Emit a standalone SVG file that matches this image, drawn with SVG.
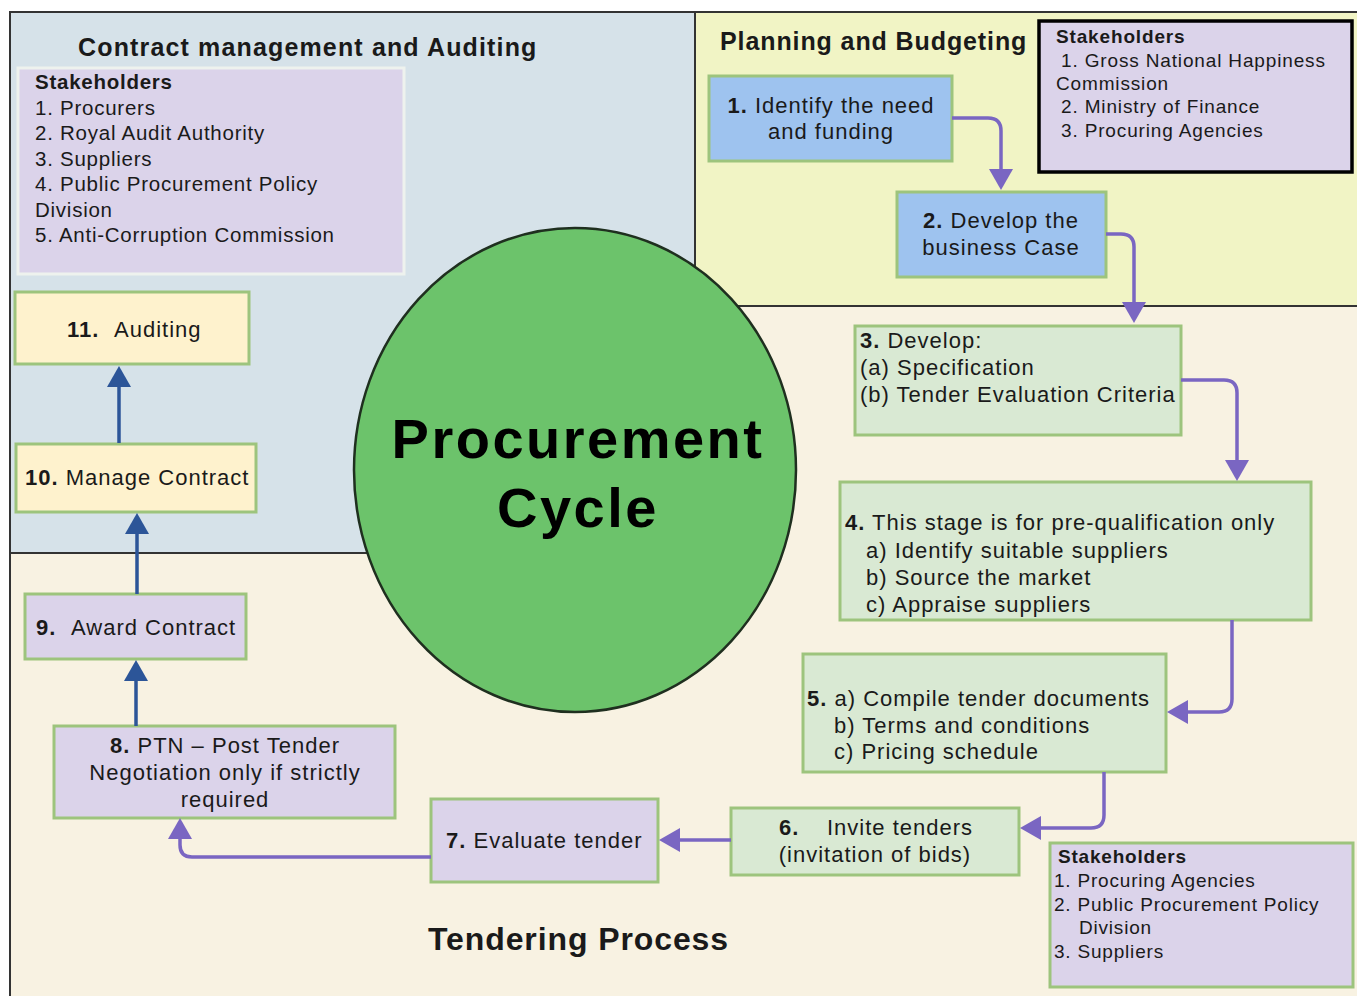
<svg xmlns="http://www.w3.org/2000/svg" width="1357" height="996" viewBox="0 0 1357 996">
<style>
text{font-family:"Liberation Sans",Arial,sans-serif;fill:#1a1a1a}
.t{font-size:22px;letter-spacing:1px}
.b{font-weight:bold}
.title{font-size:25px;font-weight:bold;letter-spacing:0.9px}
.sk1{font-size:20.5px;letter-spacing:0.75px}
.sk2{font-size:19px;letter-spacing:0.85px}
.big{font-size:56px;font-weight:bold;letter-spacing:2.5px;fill:#000}
.node{stroke:#9dc47d;stroke-width:3}
.purple{fill:#dbd3ea}
.blue{fill:#9ec3ef}
.green{fill:#d9e9d3}
.yellow{fill:#fef2cd}
.pa{fill:none;stroke:#7a66c2;stroke-width:3.5}
.ba{fill:none;stroke:#2c5598;stroke-width:3.5}
.reg{stroke:#333;stroke-width:2}
</style>
<defs>
<marker id="ap" markerUnits="userSpaceOnUse" markerWidth="21" markerHeight="24" refX="0" refY="12" orient="auto" overflow="visible">
<path d="M0,0 L21,12 L0,24 z" fill="#7a66c2"/>
</marker>
<marker id="ab" markerUnits="userSpaceOnUse" markerWidth="21" markerHeight="24" refX="0" refY="12" orient="auto" overflow="visible">
<path d="M0,0 L21,12 L0,24 z" fill="#2c5598"/>
</marker>
</defs>
<rect width="1357" height="996" fill="#ffffff"/>
<g id="regions">
<rect class="reg" x="10" y="12" width="1350" height="990" fill="#f8f2e2"/>
<rect class="reg" x="10" y="12" width="685" height="541" fill="#d6e2e9"/>
<rect class="reg" x="695" y="12" width="665" height="294" fill="#f1f4c5"/>
<text class="title" x="78" y="56" style="letter-spacing:1.15px">Contract management and Auditing</text>
<text class="title" x="720" y="50">Planning and Budgeting</text>
<text class="title" x="428" y="950" style="font-size:32px">Tendering Process</text>
</g>
<g id="cycle">
<ellipse cx="575" cy="470" rx="221" ry="242" fill="#6cc36b" stroke="#1f2f1f" stroke-width="2.5"/>
<text class="big" x="578" y="458" text-anchor="middle">Procurement</text>
<text class="big" x="578" y="527" text-anchor="middle">Cycle</text>
</g>
<g id="stakeholders-contract">
<rect x="18" y="68" width="386" height="206" fill="#dbd3ea" stroke="#eef2ee" stroke-width="3"/>
<text class="sk1" x="35"><tspan x="35" y="89" class="b">Stakeholders</tspan><tspan x="35" y="115">1. Procurers</tspan><tspan x="35" y="140">2. Royal Audit Authority</tspan><tspan x="35" y="166">3. Suppliers</tspan><tspan x="35" y="191">4. Public Procurement Policy</tspan><tspan x="35" y="217">Division</tspan><tspan x="35" y="242">5. Anti-Corruption Commission</tspan></text>
</g>
<g id="stakeholders-planning">
<rect x="1039" y="21" width="313" height="151" fill="#dbd3ea" stroke="#000" stroke-width="3.5"/>
<text class="sk2"><tspan x="1056" y="43" class="b">Stakeholders</tspan><tspan x="1061" y="67">1. Gross National Happiness</tspan><tspan x="1056" y="90">Commission</tspan><tspan x="1061" y="113">2. Ministry of Finance</tspan><tspan x="1061" y="137">3. Procuring Agencies</tspan></text>
</g>
<g id="stakeholders-tendering">
<rect class="node" x="1050" y="843" width="303" height="144" fill="#dbd3ea"/>
<text class="sk2" style="letter-spacing:0.8px"><tspan x="1058" y="863" class="b">Stakeholders</tspan><tspan x="1054" y="887">1. Procuring Agencies</tspan><tspan x="1054" y="911">2. Public Procurement Policy</tspan><tspan x="1079" y="934">Division</tspan><tspan x="1054" y="958">3. Suppliers</tspan></text>
</g>
<g id="n1">
<rect class="node blue" x="709" y="76" width="243" height="85"/>
<text class="t" text-anchor="middle"><tspan x="831" y="113"><tspan class="b">1.</tspan> Identify the need</tspan><tspan x="831" y="139">and funding</tspan></text>
</g>
<g id="n2">
<rect class="node blue" x="897" y="192" width="209" height="85"/>
<text class="t" text-anchor="middle"><tspan x="1001" y="228"><tspan class="b">2.</tspan> Develop the</tspan><tspan x="1001" y="255">business Case</tspan></text>
</g>
<g id="n3">
<rect class="node green" x="855" y="326" width="326" height="109"/>
<text class="t"><tspan x="860" y="348"><tspan class="b">3.</tspan> Develop:</tspan><tspan x="860" y="375">(a) Specification</tspan><tspan x="860" y="402">(b) Tender Evaluation Criteria</tspan></text>
</g>
<g id="n4">
<rect class="node green" x="840" y="482" width="471" height="138"/>
<text class="t"><tspan x="845" y="530"><tspan class="b">4.</tspan> This stage is for pre-qualification only</tspan><tspan x="866" y="558">a) Identify suitable suppliers</tspan><tspan x="866" y="585">b) Source the market</tspan><tspan x="866" y="612">c) Appraise suppliers</tspan></text>
</g>
<g id="n5">
<rect class="node green" x="803" y="654" width="363" height="118"/>
<text class="t"><tspan x="807" y="706"><tspan class="b">5.</tspan> a) Compile tender documents</tspan><tspan x="834" y="733">b) Terms and conditions</tspan><tspan x="834" y="759">c) Pricing schedule</tspan></text>
</g>
<g id="n6">
<rect class="node green" x="731" y="808" width="288" height="67"/>
<text class="t"><tspan x="779" y="835" class="b">6.</tspan><tspan x="827" y="835">Invite tenders</tspan><tspan x="875" y="862" text-anchor="middle">(invitation of bids)</tspan></text>
</g>
<g id="n7">
<rect class="node purple" x="431" y="799" width="227" height="83"/>
<text class="t" x="446" y="848"><tspan class="b">7.</tspan> Evaluate tender</text>
</g>
<g id="n8">
<rect class="node purple" x="54" y="726" width="341" height="92"/>
<text class="t" text-anchor="middle"><tspan x="225" y="753"><tspan class="b">8.</tspan>  PTN – Post Tender</tspan><tspan x="225" y="780">Negotiation only if strictly</tspan><tspan x="225" y="807">required</tspan></text>
</g>
<g id="n9">
<rect class="node purple" x="25" y="594" width="221" height="65"/>
<text class="t"><tspan x="36" y="635" class="b">9.</tspan><tspan x="71" y="635">Award Contract</tspan></text>
</g>
<g id="n10">
<rect class="node yellow" x="16" y="444" width="240" height="68"/>
<text class="t" x="25" y="485"><tspan class="b">10.</tspan> Manage Contract</text>
</g>
<g id="n11">
<rect class="node yellow" x="15" y="292" width="234" height="72"/>
<text class="t"><tspan x="67" y="337" class="b">11.</tspan><tspan x="114" y="337">Auditing</tspan></text>
</g>
<g id="connectors">
<path class="pa" d="M952,118 H988 Q1001,118 1001,131 V169" marker-end="url(#ap)"/>
<path class="pa" d="M1106,234 H1121 Q1134,234 1134,247 V302" marker-end="url(#ap)"/>
<path class="pa" d="M1181,380 H1224 Q1237,380 1237,393 V460" marker-end="url(#ap)"/>
<path class="pa" d="M1232,620 V699 Q1232,712 1219,712 H1188" marker-end="url(#ap)"/>
<path class="pa" d="M1104,772 V815 Q1104,828 1091,828 H1041" marker-end="url(#ap)"/>
<path class="pa" d="M731,840 H680" marker-end="url(#ap)"/>
<path class="pa" d="M431,857 H192 Q180,857 180,845 V839" marker-end="url(#ap)"/>
<path class="ba" d="M136,726 V681" marker-end="url(#ab)"/>
<path class="ba" d="M137,594 V534" marker-end="url(#ab)"/>
<path class="ba" d="M119,443 V387" marker-end="url(#ab)"/>
</g>
</svg>
